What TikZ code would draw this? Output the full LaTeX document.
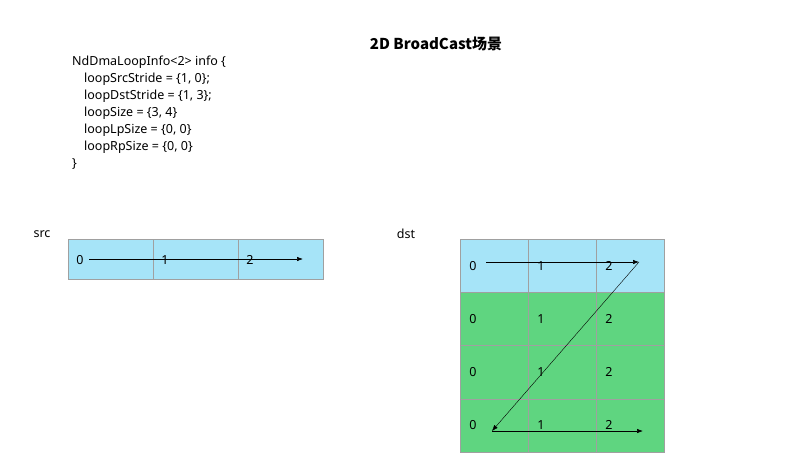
\documentclass[tikz,border=0pt]{standalone}
\usepackage{fontspec}
\setmainfont{Noto Sans}
\newfontfamily\cjk{Noto Sans CJK SC}
\usepackage{tikz}
\usetikzlibrary{arrows.meta}
\definecolor{cellblue}{HTML}{A6E4F8}
\definecolor{cellgreen}{HTML}{5FD580}
\definecolor{cellline}{HTML}{A0A0A0}
\tikzset{
  srccell/.style={draw=cellline,fill=cellblue,inner sep=0,minimum width=85pt,minimum height=40pt},
  dstcell/.style={draw=cellline,inner sep=0,minimum width=68pt,minimum height=53.25pt},
  txt/.style={font=\fontsize{12.5}{14}\selectfont,inner sep=0},
  code/.style={txt,anchor=west},
  walk/.style={-{Latex[length=6pt,width=4.5pt]},line width=0.6pt}
}
\begin{document}
\begin{tikzpicture}[x=1pt,y=-1pt]
\useasboundingbox (0,0) rectangle (803,453);

\node[font=\cjk\fontsize{15}{17}\selectfont\bfseries,inner sep=0] (title) at (436,44) {2D BroadCast场景};

\node[code] (c1) at (72,62) {NdDmaLoopInfo<2> info \{};
\node[code] (c2) at (84,79) {loopSrcStride = \{1, 0\};};
\node[code] (c3) at (84,96) {loopDstStride = \{1, 3\};};
\node[code] (c4) at (84,113) {loopSize = \{3, 4\}};
\node[code] (c5) at (84,130) {loopLpSize = \{0, 0\}};
\node[code] (c6) at (84,147) {loopRpSize = \{0, 0\}};
\node[code] (c7) at (72,164) {\}};

\node[txt] (srcname) at (42,234) {src};
\node[srccell] (s1) at (110.5,259) {};
\node[srccell] (s2) at (195.5,259) {};
\node[srccell] (s3) at (280.5,259) {};
\node[txt] (s1t) at (80,260) {0};
\node[txt] (s2t) at (165,260) {1};
\node[txt] (s3t) at (250,260) {2};
\coordinate (sa) at (89,259);
\coordinate (sb) at (303,259);
\draw[walk] (sa) -- (sb);

\node[txt] (dstname) at (406,234) {dst};
\node[dstcell,fill=cellblue] (d11) at (494,265.6) {};
\node[dstcell,fill=cellblue] (d12) at (562,265.6) {};
\node[dstcell,fill=cellblue] (d13) at (630,265.6) {};
\node[dstcell,fill=cellgreen] (d21) at (494,318.9) {};
\node[dstcell,fill=cellgreen] (d22) at (562,318.9) {};
\node[dstcell,fill=cellgreen] (d23) at (630,318.9) {};
\node[dstcell,fill=cellgreen] (d31) at (494,372.1) {};
\node[dstcell,fill=cellgreen] (d32) at (562,372.1) {};
\node[dstcell,fill=cellgreen] (d33) at (630,372.1) {};
\node[dstcell,fill=cellgreen] (d41) at (494,425.4) {};
\node[dstcell,fill=cellgreen] (d42) at (562,425.4) {};
\node[dstcell,fill=cellgreen] (d43) at (630,425.4) {};

\node[txt] (d11t) at (473,266) {0};
\node[txt] (d12t) at (541,266) {1};
\node[txt] (d13t) at (609,266) {2};
\node[txt] (d21t) at (473,319) {0};
\node[txt] (d22t) at (541,319) {1};
\node[txt] (d23t) at (609,319) {2};
\node[txt] (d31t) at (473,372) {0};
\node[txt] (d32t) at (541,372) {1};
\node[txt] (d33t) at (609,372) {2};
\node[txt] (d41t) at (473,425) {0};
\node[txt] (d42t) at (541,425) {1};
\node[txt] (d43t) at (609,425) {2};

\coordinate (da) at (486,262);
\coordinate (db) at (639,262);
\coordinate (dc) at (492,431);
\coordinate (dd) at (643,431);
\draw[walk] (da) -- (db);
\draw[walk,line width=0.4pt] (db) -- (dc);
\draw[walk] (dc) -- (dd);
\end{tikzpicture}
\end{document}
